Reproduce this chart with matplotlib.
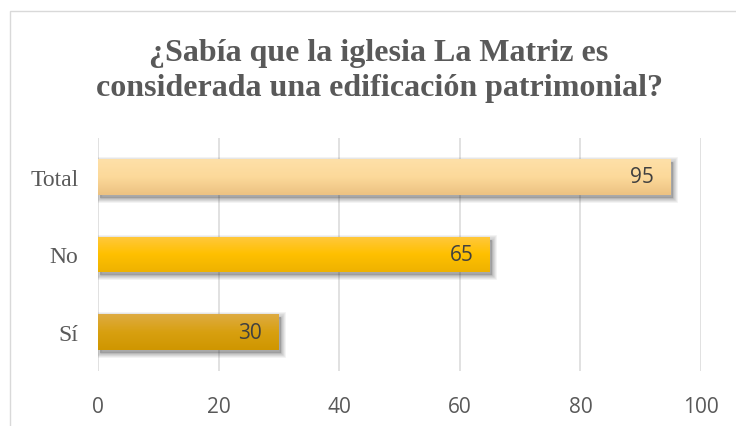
import matplotlib
matplotlib.use("Agg")
import matplotlib.pyplot as plt
import numpy as np
from matplotlib.colors import LinearSegmentedColormap
from matplotlib.patches import Rectangle
import matplotlib.transforms as mtransforms

categories = ["Sí", "No", "Total"]
values = [30, 65, 95]
x_ticks = [0, 20, 40, 60, 80, 100]
title = "¿Sabía que la iglesia La Matriz es\nconsiderada una edificación patrimonial?"

# top colour, middle colour, bottom colour of each bar's gradient
bar_gradients = [
    ["#DEAB42", "#D8A010", "#CF9600"],
    ["#FFC83E", "#FFC000", "#EEB200"],
    ["#FEE0A8", "#FCD99A", "#ECC282"],
]

fig = plt.figure(figsize=(7.36, 4.27), dpi=100)
fig.patch.set_facecolor("white")

# outer chart border (cut off at right and bottom like the reference)
fig.patches.append(Rectangle((10 / 736, -0.1), 1.2, 1 - 12 / 427 + 0.1,
                             transform=fig.transFigure, fill=False,
                             edgecolor="#D9D9D9", linewidth=1.0))

ax = fig.add_axes([98 / 736, 1 - 372 / 427, (701 - 98) / 736, 233 / 427])
ax.set_xlim(0, 100)
ax.set_ylim(-0.5, 2.5)

for s in ax.spines.values():
    s.set_visible(False)

for xt in x_ticks:
    ax.axvline(xt, color="#D9D9D9", linewidth=1.1, zorder=0)

ys = np.arange(len(categories))
bar_h = 0.46
bars = ax.barh(ys, values, height=bar_h, color="none", edgecolor="none", zorder=3)

# soft shadow below/right of each bar
off = mtransforms.offset_copy(ax.transData, fig=fig, x=2.0, y=-3.0, units="dots")
for b in bars:
    for grow in [7, 5.5, 4, 2.5, 1]:
        sh = Rectangle((b.get_x(), b.get_y()), b.get_width(), b.get_height(),
                       transform=off, facecolor="#404040", edgecolor="#404040",
                       linewidth=grow, alpha=0.07, zorder=2)
        ax.add_patch(sh)

for b, cols in zip(bars, bar_gradients):
    cmap = LinearSegmentedColormap.from_list("g", cols[::-1])
    grad = np.linspace(0, 1, 64).reshape(-1, 1)
    x0, y0 = b.get_x(), b.get_y()
    im = ax.imshow(grad, cmap=cmap, aspect="auto", origin="lower",
                   extent=(x0, x0 + b.get_width(), y0, y0 + b.get_height()),
                   zorder=4, interpolation="bilinear")
    im.set_clip_path(b)

ax.set_xlim(0, 100)
ax.set_ylim(-0.5, 2.5)

for y, v in zip(ys, values):
    ax.annotate(str(v), (v, y), xytext=(-12, 0), textcoords="offset points",
                ha="right", va="center", fontsize=15, family="Open Sans",
                color="#404040", zorder=6)

ax.set_yticks(ys)
ax.set_yticklabels(categories, family="Liberation Serif", fontsize=17, color="#595959")
ax.set_xticks(x_ticks)
ax.set_xticklabels([str(t) for t in x_ticks], family="Open Sans", fontsize=15, color="#595959")
ax.tick_params(axis="y", length=0, pad=14)
ax.tick_params(axis="x", length=0, pad=18)

fig.text(379 / 736, 1 - 71 / 427, title, ha="center", va="center",
         family="Liberation Serif", fontweight="bold", fontsize=23,
         color="#595959", linespacing=1.3)

fig.savefig("out.png", dpi=100)
